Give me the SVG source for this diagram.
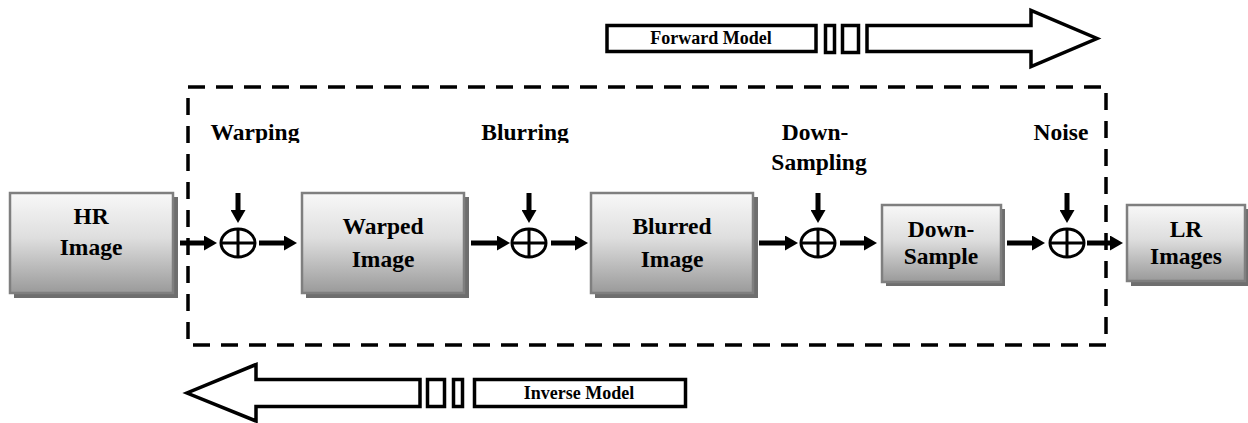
<svg xmlns="http://www.w3.org/2000/svg" width="1248" height="423" viewBox="0 0 1248 423">
<defs>
<linearGradient id="boxg" x1="0" y1="0" x2="0" y2="1">
<stop offset="0" stop-color="#f8f8f8"/>
<stop offset="0.45" stop-color="#dedede"/>
<stop offset="1" stop-color="#9a9a9a"/>
</linearGradient>
<marker id="ah" viewBox="0 0 13 15" refX="0" refY="7.5" markerWidth="13" markerHeight="15" markerUnits="userSpaceOnUse" orient="auto">
<path d="M0,0 L13,7.5 L0,15 z" fill="#000"/>
</marker>
<clipPath id="lblclip"><rect x="0" y="0" width="1248" height="143"/></clipPath>
</defs>
<style>
.box{fill:url(#boxg);stroke:#7f7f7f;stroke-width:2.5}
.shadow{fill:#6e6e6e}
.t{font-family:"Liberation Serif","Times New Roman",serif;font-weight:bold;fill:#000;text-anchor:middle}
.bt{font-size:23.5px}
.mt{font-size:18px}
.arr{stroke:#000;stroke-width:5;fill:none;marker-end:url(#ah)}
.sum{fill:none;stroke:#000;stroke-width:3}
.out{fill:#fff;stroke:#000;stroke-width:3.5}
.dash{fill:none;stroke:#000;stroke-width:3.5;stroke-dasharray:17 11}
</style>

<g id="forward-model">
<rect class="out" x="607" y="25.5" width="209" height="26"/>
<rect class="out" x="825.5" y="25.5" width="9" height="27"/>
<rect class="out" x="842.5" y="25.5" width="16" height="27"/>
<polygon class="out" points="867,25.5 1031,25.5 1031,10.5 1097,38.5 1031,66.5 1031,51.5 867,51.5"/>
<text class="t mt" x="711" y="44">Forward Model</text>
</g>

<g id="inverse-model">
<polygon class="out" points="420,379.5 256,379.5 256,364.5 187,393 256,421 256,406.5 420,406.5"/>
<rect class="out" x="427.5" y="379.5" width="17" height="27"/>
<rect class="out" x="453.5" y="379.5" width="9" height="27"/>
<rect class="out" x="474.5" y="379.5" width="211" height="27"/>
<text class="t mt" x="579" y="399">Inverse Model</text>
</g>

<g id="boundary">
<rect class="dash" x="188" y="87" width="918" height="258"/>
</g>

<g id="hr-image">
<rect class="shadow" x="14" y="197" width="164" height="101"/>
<rect class="box" x="10" y="193" width="163" height="100"/>
<text class="t bt" x="91" y="224">HR</text>
<text class="t bt" x="91" y="255">Image</text>
</g>

<g id="warped-image">
<rect class="shadow" x="306" y="197" width="163" height="101"/>
<rect class="box" x="302" y="193" width="162" height="100"/>
<text class="t bt" x="383" y="234">Warped</text>
<text class="t bt" x="383" y="267">Image</text>
</g>

<g id="blurred-image">
<rect class="shadow" x="595" y="197" width="163" height="101"/>
<rect class="box" x="591" y="193" width="162" height="100"/>
<text class="t bt" x="672" y="234">Blurred</text>
<text class="t bt" x="672" y="267">Image</text>
</g>

<g id="down-sample">
<rect class="shadow" x="886" y="209" width="119" height="77"/>
<rect class="box" x="882" y="205" width="119" height="77"/>
<text class="t bt" x="941" y="237">Down-</text>
<text class="t bt" x="941" y="264">Sample</text>
</g>

<g id="lr-images">
<rect class="shadow" x="1131" y="209" width="117" height="77"/>
<rect class="box" x="1127" y="205" width="118" height="76"/>
<text class="t bt" x="1186" y="237">LR</text>
<text class="t bt" x="1186" y="264">Images</text>
</g>

<g id="sum-warping">
<ellipse class="sum" cx="238" cy="243" rx="17" ry="14"/>
<line x1="221" y1="243" x2="255" y2="243" stroke="#000" stroke-width="3"/>
<line x1="238" y1="229" x2="238" y2="257" stroke="#000" stroke-width="3"/>
<text class="t bt" x="255" y="140" clip-path="url(#lblclip)">Warping</text>
</g>

<g id="sum-blurring">
<ellipse class="sum" cx="529" cy="243" rx="17" ry="14"/>
<line x1="512" y1="243" x2="546" y2="243" stroke="#000" stroke-width="3"/>
<line x1="529" y1="229" x2="529" y2="257" stroke="#000" stroke-width="3"/>
<text class="t bt" x="525" y="140" clip-path="url(#lblclip)">Blurring</text>
</g>

<g id="sum-downsampling">
<ellipse class="sum" cx="818" cy="243" rx="17" ry="14"/>
<line x1="801" y1="243" x2="835" y2="243" stroke="#000" stroke-width="3"/>
<line x1="818" y1="229" x2="818" y2="257" stroke="#000" stroke-width="3"/>
<text class="t bt" x="815" y="140">Down-</text>
<text class="t bt" x="819" y="170">Sampling</text>
</g>

<g id="sum-noise">
<ellipse class="sum" cx="1067" cy="243" rx="17" ry="14"/>
<line x1="1050" y1="243" x2="1084" y2="243" stroke="#000" stroke-width="3"/>
<line x1="1067" y1="229" x2="1067" y2="257" stroke="#000" stroke-width="3"/>
<text class="t bt" x="1061" y="140">Noise</text>
</g>

<g id="connectors">
<line class="arr" x1="180" y1="243" x2="204" y2="243"/>
<line class="arr" x1="259" y1="243" x2="284" y2="243"/>
<line class="arr" x1="471" y1="243" x2="497" y2="243"/>
<line class="arr" x1="551" y1="243" x2="575" y2="243"/>
<line class="arr" x1="759" y1="243" x2="785" y2="243"/>
<line class="arr" x1="840" y1="243" x2="864" y2="243"/>
<line class="arr" x1="1007" y1="243" x2="1032" y2="243"/>
<line class="arr" x1="1087" y1="243" x2="1110" y2="243"/>
<line class="arr" x1="238" y1="193" x2="238" y2="210"/>
<line class="arr" x1="529" y1="193" x2="529" y2="210"/>
<line class="arr" x1="818" y1="193" x2="818" y2="210"/>
<line class="arr" x1="1067" y1="193" x2="1067" y2="210"/>
</g>
</svg>
